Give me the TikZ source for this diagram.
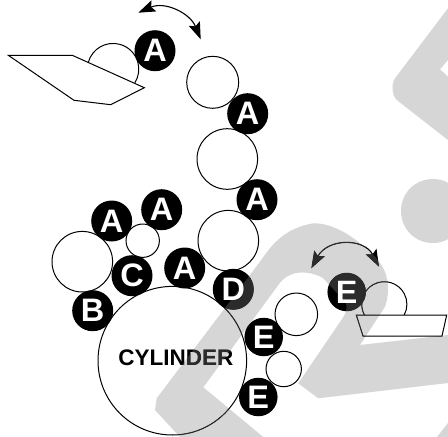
\documentclass[tikz,border=0pt]{standalone}
\usepackage{fontspec}
\setmainfont{Liberation Sans}
\usetikzlibrary{arrows.meta}
\definecolor{wmgrey}{HTML}{D6D6D6}
\definecolor{wmdark}{HTML}{2B2B2B}
\tikzset{
  disc/.style={
    circle, fill=black, text=white, inner sep=0pt, outer sep=0pt, minimum size=41pt,
    font=\fontsize{32.5}{32.5}\selectfont\bfseries
  },
  smalldisc/.style={disc, minimum size=38.5pt},
  roller/.style={circle, draw=black, line width=1pt, inner sep=0pt, outer sep=0pt, minimum size=#1},
  tray/.style={draw=black, line width=1pt},
  swing/.style={line width=1.1pt, {Stealth[length=17pt,width=12pt,inset=3pt]}-{Stealth[length=17pt,width=12pt,inset=3pt]}}
}
% watermark outlines, used under and over the drawing
\def\wmpath{
	(448,8.3) -- (395,78.3) .. controls (391.5,83) and (391.5,95) .. (396.7,100) -- (448,140) -- (448,76.7) -- (440,69.3) -- (448,60) -- cycle
	(433,179) .. controls (415,179) and (401,193) .. (401,211) .. controls (401,229) and (415,243) .. (433,243) .. controls (440,243) and (445,241) .. (448,239) -- (448,183) .. controls (445,181) and (440,179) .. (433,179) -- cycle
	(156.7,398.3) -- (260,261.7) .. controls (272,244) and (285,228) .. (313.3,223.3) .. controls (332,223) and (350,235) .. (360,243.3) .. controls (372,252) and (381,262) .. (385,272) .. controls (389,282) and (389,296) .. (385,306.7) -- (360,345) -- (448,335) -- (448,383) -- (318.3,398.3) -- (298.3,383.3) -- (340,322) .. controls (345,315) and (349,308) .. (345,302) -- (323.3,278.3) .. controls (315,273) and (300,270) .. (290,275) .. controls (285,277) and (281,281) .. (278.3,285) -- (203.3,387.3) -- (263.3,437) -- (180,437) -- (155,410) -- cycle
	(437,437) -- (448,423) -- (448,437) -- cycle
}
\begin{document}
\begin{tikzpicture}[x=1pt,y=-1pt]
	\useasboundingbox (0,0) rectangle (448,437);
	\fill [white] (0,0) rectangle (448,437);
	\fill [wmgrey] \wmpath;

	% rollers
	\node [roller=148.6pt] (cylinder) at (172.3,360.7) {};
	\node [roller=52pt] (rollerA) at (212.7,82.3) {};
	\node [roller=60.6pt] (rollerB) at (227.3,159) {};
	\node [roller=60.6pt] (rollerC) at (228.3,240.7) {};
	\node [roller=60.6pt] (rollerD) at (82.3,261.7) {};
	\node [roller=33.4pt] (rollerE) at (142.7,240.7) {};
	\node [roller=42.6pt] (rollerF) at (296.3,314.3) {};
	\node [roller=35.4pt] (rollerG) at (283.7,369) {};
	\node [font=\fontsize{22.5}{22.5}\selectfont\bfseries] (cylname) at (175.8,357.5) {CYLINDER};

	% left fountain
	\draw [tray] (88.3,62.3) arc [start angle=164.6, end angle=-32, radius=25.7pt];
	\draw [tray] (8.3,55.3) -- (72.3,55.3) -- (144.3,87.7) -- (110.7,104.7) -- (74,100.3) -- cycle;

	% right fountain
	\draw [tray] (364.4,315) arc [start angle=208.3, end angle=-28.3, radius=22.6pt];
	\draw [tray] (356.3,315) -- (446.7,315) -- (442,336) -- (363,336) -- cycle;

	% lettered units
	\node [disc] (unitA) at (155,50.7) {A};
	\node [disc] (unitB) at (247.7,113.7) {A};
	\node [disc] (unitC) at (257,199.7) {A};
	\node [disc] (unitD) at (161.7,209.7) {A};
	\node [disc] (unitE) at (111.7,221) {A};
	\node [disc] (unitF) at (184.7,268) {A};
	\node [disc] (unitG) at (132,275.7) {C};
	\node [disc] (unitH) at (92.7,310.7) {B};
	\node [disc] (unitI) at (233.3,289.3) {D};
	\node [smalldisc] (unitJ) at (346.7,292) {E};
	\node [smalldisc] (unitK) at (263.7,337) {E};
	\node [smalldisc] (unitL) at (258.3,397) {E};

	% swing arrows
	\coordinate (swingAl) at (138.3,12.7);
	\coordinate (swingAr) at (200.7,39.3);
	\coordinate (swingEl) at (311.3,268.3);
	\coordinate (swingEr) at (379,266.7);
	\draw [swing] (swingAl) .. controls (165,1) and (190,13) .. (swingAr);
	\draw [swing] (swingEl) .. controls (328,238) and (364,238) .. (swingEr);

	\begin{scope}[blend mode=lighten]
		\fill [wmdark] \wmpath;
	\end{scope}
\end{tikzpicture}
\end{document}
